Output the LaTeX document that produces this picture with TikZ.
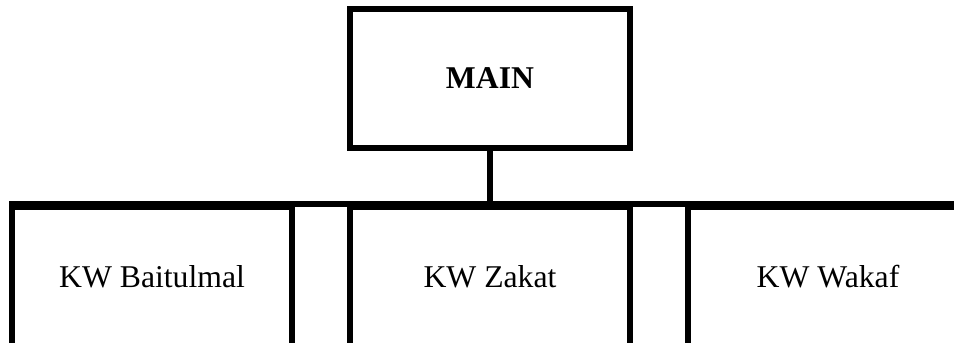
\documentclass[tikz,border=0pt]{standalone}
\usepackage{fontspec}
\setmainfont{Liberation Serif}
\begin{document}
\begin{tikzpicture}[x=1pt,y=-1pt,
  unitbox/.style={draw=black, line width=6pt, minimum width=280pt, minimum height=139pt,
    inner sep=0pt, font=\fontsize{31.7}{38}\selectfont},
  link/.style={draw=black, line width=6pt}]
  \useasboundingbox (0,0) rectangle (954,343);
  \clip (0,0) rectangle (954,343);
  % top unit
  \node[unitbox, font=\fontsize{31.7}{38}\selectfont\bfseries] (main) at (490,78.5) {MAIN};
  % subordinate units
  \node[unitbox] (baitul) at (152,276.5) {KW Baitulmal};
  \node[unitbox] (zakat)  at (490,276.5) {KW Zakat};
  \node[unitbox] (wakaf)  at (828,276.5) {KW Wakaf};
  % connectors
  \draw[link] (main.south) -- (zakat.north);
  \draw[link] (baitul.north west) -- (wakaf.north east);
\end{tikzpicture}
\end{document}
